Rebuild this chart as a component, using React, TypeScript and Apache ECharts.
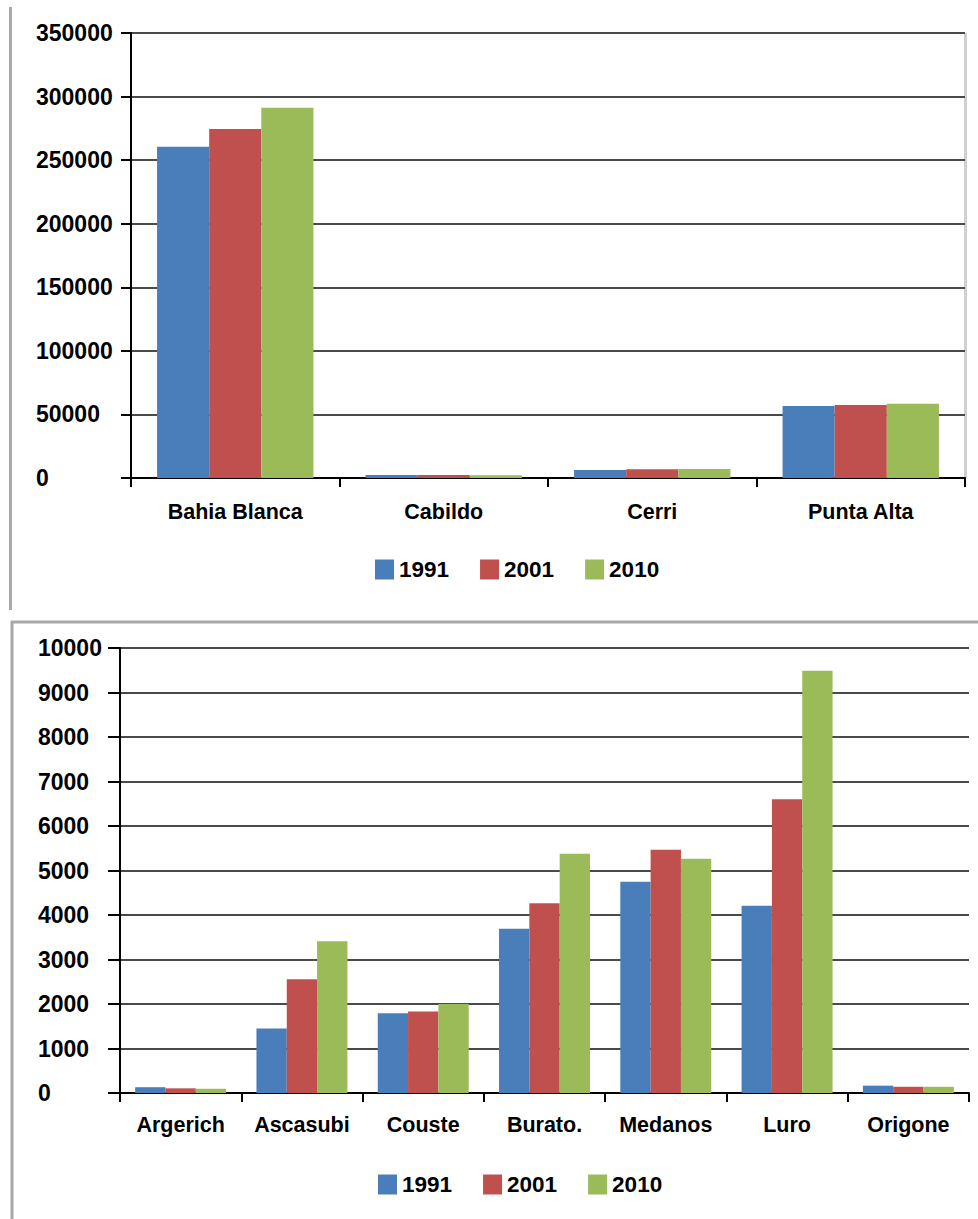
import React, { useEffect, useRef } from "react";
import * as echarts from "echarts";

const years = ["1991", "2001", "2010"];
const colors = ["#4a7ebb", "#c0504d", "#9bbb59"];

const topCategories = ["Bahia Blanca", "Cabildo", "Cerri", "Punta Alta"];
const top1991 = [260500, 2300, 6300, 56600];
const top2001 = [274500, 2300, 6800, 57400];
const top2010 = [291300, 2100, 7000, 58400];
const topTicks = { min: 0, max: 350000, interval: 50000 };

const bottomCategories = ["Argerich", "Ascasubi", "Couste", "Burato.", "Medanos", "Luro", "Origone"];
const bottom1991 = [130, 1450, 1790, 3690, 4750, 4210, 165];
const bottom2001 = [105, 2555, 1830, 4265, 5465, 6600, 140];
const bottom2010 = [95, 3410, 2000, 5375, 5265, 9490, 140];
const bottomTicks = { min: 0, max: 10000, interval: 1000 };

const FONT = "'Liberation Sans', Arial, sans-serif";

export default function App() {
  const ref = useRef<HTMLDivElement>(null);
  useEffect(() => {
    if (!ref.current) return;
    const chart = echarts.init(ref.current, null, { renderer: "svg" });
    const labelStyle = { color: "#000", fontWeight: "bold" as const, fontFamily: FONT };
    const axisBlack = { lineStyle: { color: "#000", width: 2 } };
    const split = { show: true, lineStyle: { color: "#4a4a4a", width: 2 } };
    const plain = (v: number) => String(v);
    const topSets = [top1991, top2001, top2010];
    const bottomSets = [bottom1991, bottom2001, bottom2010];
    const mkSeries = (sets: number[][], idx: number) =>
      sets.map((d, i) => ({
        name: years[i],
        type: "bar" as const,
        xAxisIndex: idx,
        yAxisIndex: idx,
        data: d,
        barGap: "0%",
        barCategoryGap: "25%",
        itemStyle: { color: colors[i] },
      }));
    const legendBase = {
      data: years,
      orient: "horizontal" as const,
      icon: "rect",
      itemWidth: 19,
      itemHeight: 20,
      itemGap: 31,
      textStyle: { ...labelStyle, fontSize: 22.5 },
    };
    chart.setOption({
      animation: false,
      color: colors,
      grid: [
        { left: 131, top: 33, width: 834, height: 445 },
        { left: 120, top: 648, width: 849, height: 445 },
      ],
      legend: [
        { ...legendBase, left: 370, top: 553 },
        { ...legendBase, left: 373, top: 1168 },
      ],
      xAxis: [
        {
          type: "category",
          gridIndex: 0,
          data: topCategories,
          axisLine: axisBlack,
          axisTick: { show: true, length: 9, interval: 0, lineStyle: { color: "#000", width: 2 } },
          axisLabel: { ...labelStyle, fontSize: 21.5, margin: 23, interval: 0 },
        },
        {
          type: "category",
          gridIndex: 1,
          data: bottomCategories,
          axisLine: axisBlack,
          axisTick: { show: true, length: 9, interval: 0, lineStyle: { color: "#000", width: 2 } },
          axisLabel: { ...labelStyle, fontSize: 21.5, margin: 21, interval: 0 },
        },
      ],
      yAxis: [
        {
          type: "value",
          gridIndex: 0,
          ...topTicks,
          axisLine: { show: true, ...axisBlack },
          axisTick: { show: true, length: 10, lineStyle: { color: "#000", width: 2 } },
          splitLine: split,
          axisLabel: { ...labelStyle, fontSize: 23, align: "left", margin: 95, formatter: plain },
        },
        {
          type: "value",
          gridIndex: 1,
          ...bottomTicks,
          axisLine: { show: true, ...axisBlack },
          axisTick: { show: true, length: 12, lineStyle: { color: "#000", width: 2 } },
          splitLine: split,
          axisLabel: { ...labelStyle, fontSize: 23, align: "left", margin: 82, formatter: plain },
        },
      ],
      series: [...mkSeries(topSets, 0), ...mkSeries(bottomSets, 1)],
      graphic: [
        { type: "line", shape: { x1: 10.5, y1: 7, x2: 10.5, y2: 610 }, style: { stroke: "#a8a8a8", lineWidth: 3 } },
        { type: "line", shape: { x1: 965.5, y1: 33, x2: 965.5, y2: 478 }, style: { stroke: "#d0d0d0", lineWidth: 3 } },
        { type: "line", shape: { x1: 12, y1: 621, x2: 12, y2: 1219 }, style: { stroke: "#a8a8a8", lineWidth: 3 } },
        { type: "line", shape: { x1: 11, y1: 622, x2: 978, y2: 622 }, style: { stroke: "#a8a8a8", lineWidth: 3 } },
      ],
    });
    return () => chart.dispose();
  }, []);
  return (
    <div
      ref={ref}
      style={{ position: "absolute", left: 0, top: 0, width: 978, height: 1219, background: "#fff" }}
    />
  );
}
